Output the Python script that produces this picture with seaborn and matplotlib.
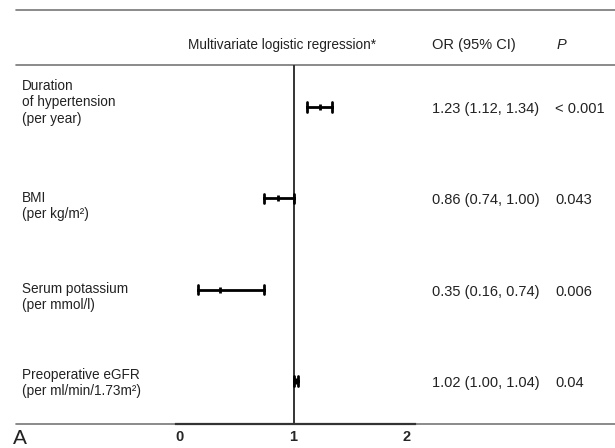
import pandas as pd
import seaborn as sns
import matplotlib.pyplot as plt
from matplotlib.lines import Line2D
from matplotlib.transforms import blended_transform_factory

# odds ratios with 95% CI
variables = ['Duration\nof hypertension\n(per year)',
             'BMI\n(per kg/m²)',
             'Serum potassium\n(per mmol/l)',
             'Preoperative eGFR\n(per ml/min/1.73m²)']
odds_ratio = [1.23, 0.86, 0.35, 1.02]
ci_low = [1.12, 0.74, 0.16, 1.00]
ci_high = [1.34, 1.00, 0.74, 1.04]
or_text = ['1.23 (1.12, 1.34)', '0.86 (0.74, 1.00)',
           '0.35 (0.16, 0.74)', '1.02 (1.00, 1.04)']
p_text = ['< 0.001', '0.043', '0.006', '0.04']
x_ticks = [0, 1, 2]

sns.set_style('white')
plt.rcParams['font.family'] = ['Liberation Sans', 'DejaVu Sans']

W, H = 615, 448
fig = plt.figure(figsize=(W / 100, H / 100), dpi=100)

def fx(px):
    return px / W

def fy(py):
    return 1 - py / H

# forest axes: top at y=65, bottom at y=424, x from 176 to 415 px
ax = fig.add_axes([fx(176), fy(424), fx(415) - fx(176), (424 - 65) / H])

# long form so seaborn does the point (median) and the interval (min, max)
rows = []
for i, v in enumerate(variables):
    for val in (ci_low[i], odds_ratio[i], ci_high[i]):
        rows.append({'row': i, 'value': val})
df = pd.DataFrame(rows)

sns.pointplot(data=df, x='value', y='row', orient='h', native_scale=True,
              estimator='median', errorbar=lambda v: (v.min(), v.max()),
              capsize=0.1, linestyle='none', marker='|', markersize=5,
              markeredgewidth=2, color='black', err_kws={'linewidth': 2},
              ax=ax)

ax.axvline(1, color='#333333', lw=1.4, zorder=0)

ax.set_xlim(-0.035, 2.07)
ax.set_ylim(3.47, -0.46)
ax.set_xticks(x_ticks)
ax.set_xticklabels([str(t) for t in x_ticks], fontweight='bold', fontsize=10.5)
ax.set_yticks([])
ax.set_xlabel('')
ax.set_ylabel('')
ax.tick_params(axis='x', length=0, pad=4)
for side in ['top', 'left', 'right']:
    ax.spines[side].set_visible(False)
ax.spines['bottom'].set_color('#333333')
ax.spines['bottom'].set_linewidth(1.6)
ax.patch.set_alpha(0)

# table rules
for py in [10, 65, 424]:
    fig.add_artist(Line2D([fx(16), 1], [fy(py), fy(py)], color='#777777', lw=1.2,
                          transform=fig.transFigure, zorder=0))

# header
fig.text(fx(188), fy(45), 'Multivariate logistic regression*', fontsize=9.8,
         va='center', ha='left', color='#222222')
fig.text(fx(432), fy(45), 'OR (95% CI)', fontsize=10.5, va='center', color='#222222')
fig.text(fx(557), fy(45), 'P', fontsize=10.5, va='center', style='italic', color='#222222')

# row texts
trans = blended_transform_factory(fig.transFigure, ax.transData)
label_offset = [-0.05, 0.08, 0.08, 0.02]
for i, lab in enumerate(variables):
    ax.text(fx(22), i + label_offset[i], lab, transform=trans, fontsize=9.8,
            va='center', ha='left', color='#222222', linespacing=1.2, clip_on=False)
    ax.text(fx(432), i + 0.02, or_text[i], transform=trans, fontsize=10.5,
            va='center', ha='left', color='#222222', clip_on=False)
    ax.text(fx(555), i + 0.02, p_text[i], transform=trans, fontsize=10.5,
            va='center', ha='left', color='#222222', clip_on=False)

fig.text(fx(13), fy(438), 'A', fontsize=15, va='center', ha='left', color='#222222')

plt.savefig('out.png', dpi=100)
